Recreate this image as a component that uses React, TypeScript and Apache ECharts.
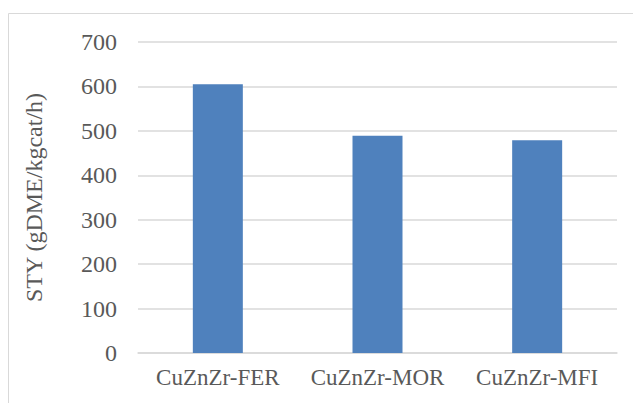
import React, { useEffect, useRef } from "react";
import * as echarts from "echarts";

const categories = ["CuZnZr-FER", "CuZnZr-MOR", "CuZnZr-MFI"];
const styValues = [605, 489, 479];
const yAxisTitle = "STY (gDME/kgcat/h)";

export default function App() {
  const ref = useRef<HTMLDivElement>(null);
  useEffect(() => {
    if (!ref.current) return;
    const chart = echarts.init(ref.current, undefined, { renderer: "svg" });
    const font = "Times New Roman, Tinos, Liberation Serif, DejaVu Serif, serif";
    chart.setOption({
      animation: false,
      backgroundColor: "#ffffff",
      textStyle: { fontFamily: font },
      graphic: [
        {
          type: "rect",
          shape: { x: 8.5, y: 13.5, width: 700, height: 500 },
          style: { fill: "none", stroke: "#d9d9d9", lineWidth: 1 },
          silent: true,
        },
      ],
      grid: { left: 138, right: 16, top: 42, bottom: 50 },
      xAxis: {
        type: "category",
        data: categories,
        axisTick: { show: false },
        axisLine: { show: true, lineStyle: { color: "#d9d9d9", width: 1.5 } },
        axisLabel: {
          color: "#595959",
          fontFamily: font,
          fontSize: 23,
          margin: 13,
          interval: 0,
          hideOverlap: false,
        },
      },
      yAxis: {
        type: "value",
        min: 0,
        max: 700,
        interval: 100,
        name: yAxisTitle,
        nameLocation: "middle",
        nameGap: 92,
        nameTextStyle: { color: "#595959", fontFamily: font, fontSize: 24 },
        axisLine: { show: false },
        axisTick: { show: false },
        axisLabel: { color: "#595959", fontFamily: font, fontSize: 24, margin: 21 },
        splitLine: { lineStyle: { color: "#d9d9d9", width: 1.5 } },
      },
      series: [
        {
          type: "bar",
          data: styValues,
          barWidth: 50,
          itemStyle: { color: "#4f81bd" },
        },
      ],
    });
    return () => chart.dispose();
  }, []);
  return (
    <div
      ref={ref}
      style={{ position: "absolute", left: 0, top: 0, width: 633, height: 403 }}
    />
  );
}
